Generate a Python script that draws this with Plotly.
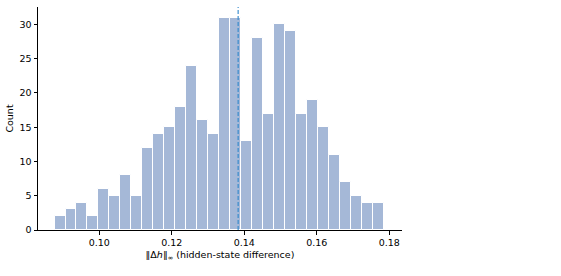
import plotly.graph_objects as go

# Histogram data
bin_start = 0.08766
bin_width = 0.003026
counts = [2, 3, 4, 2, 6, 5, 8, 5, 12, 14, 15, 18, 24, 16, 14, 31, 31, 13, 28, 17,
          30, 29, 17, 19, 15, 11, 7, 5, 4, 4]
mean_value = 0.1383
x_ticks = [0.10, 0.12, 0.14, 0.16, 0.18]
y_ticks = [0, 5, 10, 15, 20, 25, 30]

centers = [bin_start + (i + 0.5) * bin_width for i in range(len(counts))]

fig = go.Figure()
fig.add_trace(go.Bar(
    x=centers, y=counts, width=bin_width,
    marker=dict(color="rgba(76,114,176,0.5)", line=dict(color="white", width=1)),
    showlegend=False,
))
fig.add_shape(type="line", x0=mean_value, x1=mean_value, xref="x",
              y0=0, y1=1, yref="paper",
              line=dict(color="#2f88cc", width=1.1, dash="4px,2px"))

font = dict(family="DejaVu Sans", size=9.5, color="black")
fig.update_layout(
    width=561, height=276,
    margin=dict(l=38, r=159, t=7, b=46),
    plot_bgcolor="white", paper_bgcolor="white",
    font=font, bargap=0,
    xaxis=dict(range=[0.0831, 0.1835], tickvals=x_ticks, tickformat=".2f",
               showgrid=False, zeroline=False, showline=True, linecolor="black",
               linewidth=1, ticks="outside", ticklen=3.5, tickcolor="black",
               title=dict(text="‖Δ<i>h</i>‖<sub>∞</sub> (hidden-state difference)",
                          font=font, standoff=4)),
    yaxis=dict(range=[0, 32.55], tickvals=y_ticks, showgrid=False, zeroline=False,
               showline=True, linecolor="black", linewidth=1, ticks="outside",
               ticklen=3.5, tickcolor="black",
               title=dict(text="Count", font=font, standoff=4)),
)
fig.write_html("out.html")
